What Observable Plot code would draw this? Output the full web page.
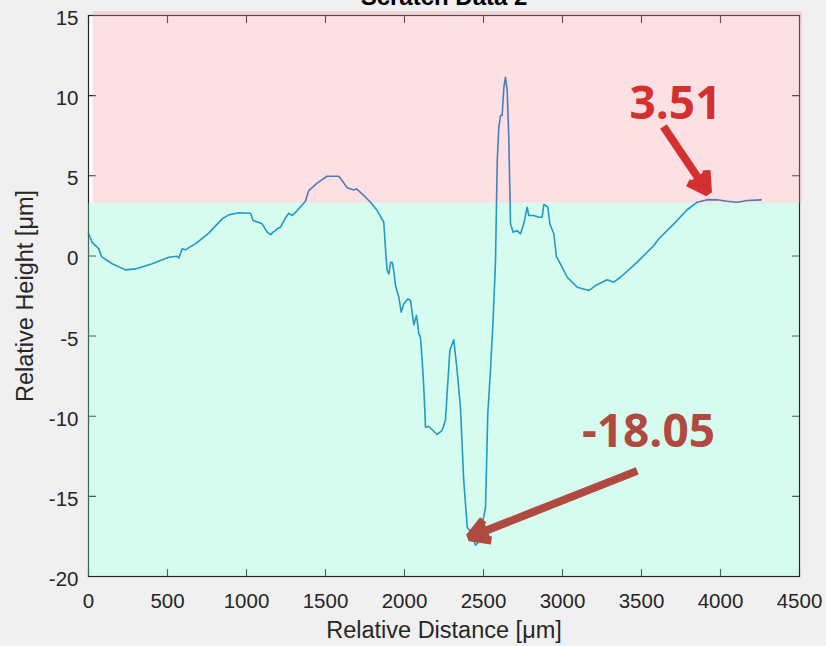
<!DOCTYPE html>
<html>
<head>
<meta charset="utf-8">
<script src="https://cdn.jsdelivr.net/npm/d3@7"></script>
<script src="https://cdn.jsdelivr.net/npm/@observablehq/plot@0.6"></script>
<style>
  html, body { margin: 0; padding: 0; background: #f0f0f0; }
  #chart svg { display: block; }
</style>
</head>
<body>
<div id="chart"></div>
<script>
// ---- profile data ----
const distances = [0, 23, 50, 65, 82, 150, 234, 297, 403, 508, 561, 572, 593, 614, 640, 677, 761, 846, 888, 951,
  1025, 1042, 1099, 1131, 1152, 1170, 1183, 1194, 1215, 1247, 1268, 1289, 1321, 1373, 1394, 1447, 1510, 1584, 1605, 1637,
  1679, 1696, 1732, 1785, 1827, 1869, 1880, 1890, 1901, 1912, 1922, 1932, 1943, 1964, 1979, 1996, 2021, 2038, 2059, 2076,
  2091, 2101, 2112, 2122, 2133, 2154, 2207, 2238, 2259, 2287, 2312, 2333, 2354, 2375, 2397, 2428, 2449, 2465, 2481, 2513,
  2527, 2544, 2561, 2576, 2587, 2597, 2608, 2618, 2629, 2639, 2650, 2660, 2671, 2688, 2713, 2734, 2755, 2776, 2787, 2818,
  2850, 2871, 2882, 2907, 2920, 2945, 2962, 2970, 3030, 3093, 3167, 3209, 3283, 3325, 3367, 3473, 3578, 3610, 3705, 3789,
  3853, 3916, 3979, 4042, 4106, 4169, 4257];
const heights = [1.40, 0.85, 0.60, 0.44, -0.04, -0.49, -0.87, -0.81, -0.49, -0.08, -0.02, -0.12, 0.44, 0.38, 0.55, 0.75, 1.42, 2.31, 2.56, 2.69,
  2.66, 2.21, 2.00, 1.48, 1.33, 1.50, 1.58, 1.69, 1.79, 2.38, 2.66, 2.52, 2.83, 3.41, 4.08, 4.54, 4.97, 4.97, 4.70, 4.25,
  4.12, 4.18, 3.87, 3.35, 2.83, 2.10, 0.40, -0.90, -1.12, -0.40, -0.39, -0.91, -1.85, -2.57, -3.51, -2.99, -2.68, -2.78, -4.30, -3.72,
  -4.86, -5.07, -6.53, -8.19, -10.69, -10.64, -11.14, -10.89, -10.27, -5.90, -5.23, -7.15, -9.44, -14.01, -16.93, -17.34, -18.05, -17.90, -17.34, -15.68,
  -9.85, -7.15, -4.00, -0.29, 5.95, 8.03, 8.76, 8.76, 10.52, 11.15, 10.32, 7.41, 2.00, 1.48, 1.58, 1.38, 2.00, 3.04, 2.52, 2.52,
  2.41, 2.41, 3.21, 3.04, 2.00, 1.38, -0.08, -0.18, -1.33, -1.95, -2.16, -1.85, -1.49, -1.64, -1.33, -0.39, 0.65, 1.07, 2.00, 2.88,
  3.35, 3.51, 3.50, 3.41, 3.35, 3.46, 3.50];

// ---- axes ----
const xTicks = [0, 500, 1000, 1500, 2000, 2500, 3000, 3500, 4000, 4500];
const yTicks = [-20, -15, -10, -5, 0, 5, 10, 15];
const titleText = "Scratch Data 2";
const xLabel = "Relative Distance [μm]";
const yLabel = "Relative Height [μm]";

// ---- shaded bands ----
const bandNames = ["above", "below"];
const bandLow = [3.27, -20];
const bandHigh = [15.25, 3.27];
const bandStart = [30, 0];
const bandEnd = [4517, 4500];
const bandColors = ["#f898a5", "#76f5cd"];

// ---- callouts ----
const calloutText = ["3.51", "-18.05"];
const calloutX = [3715, 3544];
const calloutY = [8.57, -11.95];
const arrowFromX = [3639, 3473];
const arrowFromY = [8.08, -13.41];
const arrowToX = [3921, 2410];
const arrowToY = [3.95, -17.55];
const calloutColors = ["#d3302f", "#b04a40"];

const profile = distances.map((d, i) => ({d, h: heights[i]}));
const bands = bandNames.map((n, i) => ({n, lo: bandLow[i], hi: bandHigh[i], x1: bandStart[i], x2: bandEnd[i], c: bandColors[i]}));
const callouts = calloutText.map((t, i) => ({
  t, x: calloutX[i], y: calloutY[i],
  fx: arrowFromX[i], fy: arrowFromY[i], tx: arrowToX[i], ty: arrowToY[i], c: calloutColors[i]
}));

const ink = "#262626";
const tickFont = 20.5;
const tickLen = 7;
// straight tick shape for vectors
const tickShape = {draw(context, l) { context.moveTo(0, 0); context.lineTo(0, -l); }};

const chart = Plot.plot({
  width: 826,
  height: 646,
  marginLeft: 88,
  marginRight: 27,
  marginTop: 15,
  marginBottom: 70,
  style: {background: "#f0f0f0", color: ink, fontFamily: "'Liberation Sans', Arial, sans-serif", fontSize: tickFont + "px"},
  x: {domain: [0, 4500], label: null},
  y: {domain: [-20, 15], label: null},
  marks: [
    Plot.frame({fill: "white", stroke: null}),
    Plot.line(profile, {x: "d", y: "h", stroke: "#0072BD", strokeWidth: 1.6}),
    Plot.frame({stroke: ink, strokeWidth: 1.2}),
    // inward ticks on all four sides
    Plot.vector(xTicks, {x: d => d, frameAnchor: "bottom", rotate: 0, length: tickLen, anchor: "start", shape: tickShape, stroke: ink, strokeWidth: 1.1}),
    Plot.vector(xTicks, {x: d => d, frameAnchor: "top", rotate: 180, length: tickLen, anchor: "start", shape: tickShape, stroke: ink, strokeWidth: 1.1}),
    Plot.vector(yTicks, {y: d => d, frameAnchor: "left", rotate: 90, length: tickLen, anchor: "start", shape: tickShape, stroke: ink, strokeWidth: 1.1}),
    Plot.vector(yTicks, {y: d => d, frameAnchor: "right", rotate: -90, length: tickLen, anchor: "start", shape: tickShape, stroke: ink, strokeWidth: 1.1}),
    // tick labels
    Plot.axisX({anchor: "bottom", ticks: xTicks, tickSize: 0, tickPadding: 17, tickFormat: d => String(d), label: null, fill: ink, fontSize: tickFont}),
    Plot.axisY({anchor: "left", ticks: yTicks, tickSize: 0, tickPadding: 10, dy: 3, tickFormat: d => String(d), label: null, fill: ink, fontSize: tickFont}),
    // translucent bands over the plot
    Plot.rect(bands, {x1: "x1", x2: "x2", y1: "lo", y2: "hi", fill: "c", fillOpacity: 0.3}),
    // axis titles and chart title
    Plot.text([xLabel], {frameAnchor: "bottom", dy: 61, text: d => d, fontSize: 23.5, fill: ink}),
    Plot.text([yLabel], {frameAnchor: "left", dx: -63, rotate: -90, textAnchor: "middle", text: d => d, fontSize: 23.5, fill: ink}),
    Plot.text([titleText], {frameAnchor: "top", dy: -11, lineAnchor: "bottom", text: d => d, fontSize: 24, fontWeight: "bold", fill: "#000"}),
    // callouts
    Plot.arrow(callouts, {x1: "fx", y1: "fy", x2: "tx", y2: "ty", stroke: "c", fill: "c", strokeWidth: 8,
      headLength: 4.2, headAngle: 60, strokeLinecap: "butt"}),
    Plot.text(callouts, {x: "x", y: "y", text: "t", fill: "c", lineAnchor: "bottom", fontSize: 46, fontWeight: "bold",
      fontFamily: "'Open Sans', sans-serif"})
  ]
});

document.getElementById("chart").appendChild(chart);
</script>
</body>
</html>
